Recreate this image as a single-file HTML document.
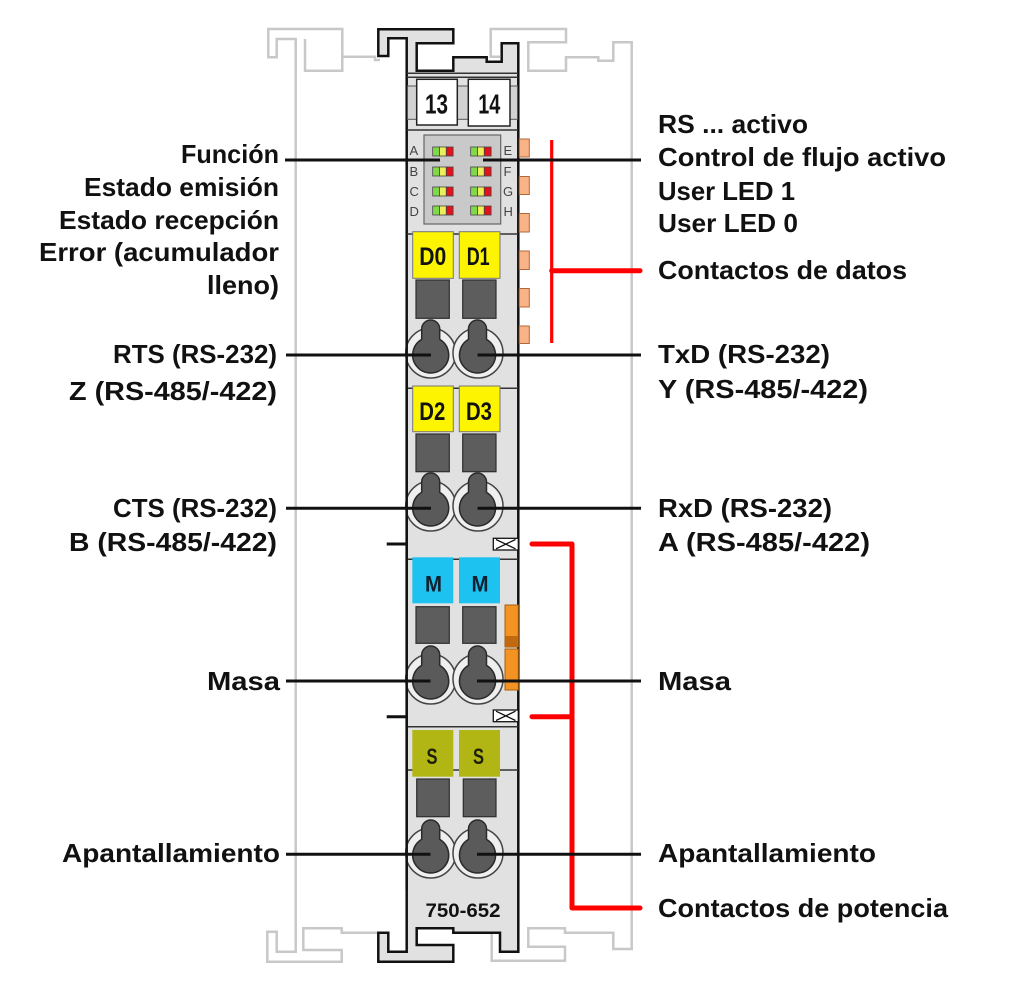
<!DOCTYPE html>
<html><head><meta charset="utf-8"><style>
html,body{margin:0;padding:0;background:#fff;}
svg{display:block;}
text{font-family:"Liberation Sans",Arial,sans-serif;}
.lb{font-size:26px;font-weight:bold;fill:#111;}
.rail{fill:none;stroke:#c8c8c8;stroke-width:2.5;}
.hl{stroke:#333;stroke-width:1.5;}
.blk{stroke:#111;stroke-width:3;}
.red{stroke:#f00;fill:none;stroke-linecap:round;}
.sq{fill:#5d5d5d;stroke:#2e2e2e;stroke-width:1.2;}
.ring{fill:#efefef;stroke:#444;stroke-width:1.5;}
.key{fill:#5a5a5a;stroke:#2a2a2a;stroke-width:1.5;}
.tab{fill:#f8b487;stroke:#b0683a;stroke-width:1;}
.yl{fill:#fcf400;stroke:#777;stroke-width:1;}
.bt{font-size:25px;font-weight:bold;fill:#111;}
.led{font-size:13px;fill:#444;}
</style></head><body>
<svg width="1024" height="990" viewBox="0 0 1024 990" xmlns="http://www.w3.org/2000/svg">
<!-- background rails -->
<polyline class="rail" points="380,60 375,60 375,56.7 342.3,56.7 342.3,29 268.3,29 268.3,57.3 276.7,57.3 276.7,39 295.7,39 295.7,951.7 276.7,951.7 276.7,931.7 267.3,931.7 267.3,961.7 341.7,961.7 341.7,950 303.3,950 303.3,928.3 341.7,928.3 341.7,932.7 380,932.7"/>
<polyline class="rail" points="305,39 305,70.7 342.3,70.7 342.3,56.7"/>
<polyline class="rail" points="500,56.7 490.7,56.7 490.7,29 566,29 566,42.3 528.3,42.3 528.3,70.7 566,70.7 566,57.3 598.3,57.3 598.3,60.7 613.3,60.7 613.3,42.3 631.7,42.3 631.7,949 613.3,949 613.3,932.7 565,932.7 565,928.3 528.3,928.3 528.3,946.7 565,946.7 565,960.7 491.7,960.7 491.7,932.7 500,932.7"/>

<!-- module body -->
<path d="M406.7,38.3 L388.3,38.3 L388.3,56 L378.3,56 L378.3,29.3 L453.3,29.3 L453.3,43.3 L416.7,43.3 L416.7,70.7 L453.3,70.7 L453.3,57.3 L486.7,57.3 L486.7,61.7 L501.7,61.7 L501.7,43.3 L518.3,43.3 L518.3,951.7 L500,951.7 L500,932.7 L453.3,932.7 L453.3,928.3 L416.7,928.3 L416.7,945 L453.3,945 L453.3,961.7 L378.3,961.7 L378.3,932.7 L388.3,932.7 L388.3,951.7 L406.7,951.7 Z" fill="#e1e1e1" stroke="#111" stroke-width="2.5"/>

<!-- label band -->
<rect x="407.5" y="86" width="110" height="33.3" fill="#d2d2d2" stroke="#555" stroke-width="1"/>
<line class="hl" x1="407" y1="73.3" x2="518" y2="73.3"/>
<line class="hl" x1="407" y1="77.3" x2="518" y2="77.3"/>
<line class="hl" x1="407" y1="130" x2="518" y2="130"/>
<rect x="416.7" y="79.3" width="40.6" height="45.7" fill="#fff" stroke="#222" stroke-width="1.5"/>
<rect x="468.3" y="79.3" width="41.7" height="46.7" fill="#fff" stroke="#222" stroke-width="1.5"/>
<text x="425" y="113.5" font-size="28" font-weight="bold" fill="#111" textLength="23" lengthAdjust="spacingAndGlyphs">13</text>
<text x="478.3" y="113.5" font-size="28" font-weight="bold" fill="#111" textLength="22" lengthAdjust="spacingAndGlyphs">14</text>

<!-- LED area -->
<rect x="424" y="135" width="76.7" height="89" fill="#c9c9c9" stroke="#666" stroke-width="1.2"/>
<text class="led" x="409.5" y="155">A</text>
<text class="led" x="409.5" y="176">B</text>
<text class="led" x="409.5" y="196">C</text>
<text class="led" x="409.5" y="216">D</text>
<text class="led" x="503.5" y="155">E</text>
<text class="led" x="503.5" y="176">F</text>
<text class="led" x="503" y="196">G</text>
<text class="led" x="503.5" y="216">H</text>
<g stroke="#444" stroke-width="0.8">
<rect x="432.7" y="147" width="6.8" height="9" fill="#7fd948"/><rect x="439.5" y="147" width="6.8" height="9" fill="#eeee5a"/><rect x="446.3" y="147" width="6.8" height="9" fill="#e3121a"/>
<rect x="470.7" y="147" width="6.8" height="9" fill="#7fd948"/><rect x="477.5" y="147" width="6.8" height="9" fill="#eeee5a"/><rect x="484.3" y="147" width="6.8" height="9" fill="#e3121a"/>
<rect x="432.7" y="167" width="6.8" height="9" fill="#7fd948"/><rect x="439.5" y="167" width="6.8" height="9" fill="#eeee5a"/><rect x="446.3" y="167" width="6.8" height="9" fill="#e3121a"/>
<rect x="470.7" y="167" width="6.8" height="9" fill="#7fd948"/><rect x="477.5" y="167" width="6.8" height="9" fill="#eeee5a"/><rect x="484.3" y="167" width="6.8" height="9" fill="#e3121a"/>
<rect x="432.7" y="187" width="6.8" height="9" fill="#7fd948"/><rect x="439.5" y="187" width="6.8" height="9" fill="#eeee5a"/><rect x="446.3" y="187" width="6.8" height="9" fill="#e3121a"/>
<rect x="470.7" y="187" width="6.8" height="9" fill="#7fd948"/><rect x="477.5" y="187" width="6.8" height="9" fill="#eeee5a"/><rect x="484.3" y="187" width="6.8" height="9" fill="#e3121a"/>
<rect x="432.7" y="206" width="6.8" height="9" fill="#7fd948"/><rect x="439.5" y="206" width="6.8" height="9" fill="#eeee5a"/><rect x="446.3" y="206" width="6.8" height="9" fill="#e3121a"/>
<rect x="470.7" y="206" width="6.8" height="9" fill="#7fd948"/><rect x="477.5" y="206" width="6.8" height="9" fill="#eeee5a"/><rect x="484.3" y="206" width="6.8" height="9" fill="#e3121a"/>
</g>

<!-- section lines -->
<line class="hl" x1="407" y1="234" x2="518" y2="234"/>
<line class="hl" x1="407" y1="388.3" x2="518" y2="388.3"/>
<line class="hl" x1="407" y1="559.3" x2="518" y2="559.3"/>
<line class="hl" x1="407" y1="726.7" x2="518" y2="726.7"/>
<line class="hl" x1="407" y1="770" x2="518" y2="770"/>

<!-- orange data contact tabs -->
<rect class="tab" x="519.3" y="139" width="10" height="18"/>
<rect class="tab" x="519.3" y="176.5" width="10" height="18"/>
<rect class="tab" x="519.3" y="213.5" width="10" height="18.5"/>
<rect class="tab" x="519.3" y="251" width="10" height="18.5"/>
<rect class="tab" x="519.3" y="288.5" width="10" height="18.5"/>
<rect class="tab" x="519.3" y="326" width="10" height="17.5"/>

<!-- colored marker boxes -->
<rect class="yl" x="412.7" y="231.7" width="40.6" height="46.6"/>
<rect class="yl" x="459.3" y="231.7" width="40.7" height="46.6"/>
<text class="bt" x="419.3" y="265" textLength="27" lengthAdjust="spacingAndGlyphs">D0</text>
<text class="bt" x="466.7" y="265" textLength="23" lengthAdjust="spacingAndGlyphs">D1</text>
<rect class="yl" x="412.7" y="386" width="40.6" height="45.7"/>
<rect class="yl" x="459.3" y="386" width="40.7" height="45.7"/>
<text class="bt" x="419.3" y="420" textLength="26" lengthAdjust="spacingAndGlyphs">D2</text>
<text class="bt" x="466" y="420" textLength="26" lengthAdjust="spacingAndGlyphs">D3</text>
<rect x="412.3" y="557.3" width="41" height="46" fill="#1dc2f0"/>
<rect x="459" y="557.3" width="41" height="46" fill="#1dc2f0"/>
<text x="425" y="591.5" font-size="22" font-weight="bold" fill="#10202e" textLength="17" lengthAdjust="spacingAndGlyphs">M</text>
<text x="471.5" y="591.5" font-size="22" font-weight="bold" fill="#10202e" textLength="17" lengthAdjust="spacingAndGlyphs">M</text>
<rect x="412.3" y="730" width="41" height="46.7" fill="#b1b614"/>
<rect x="459" y="730" width="41" height="46.7" fill="#b1b614"/>
<text x="426.5" y="764" font-size="22" font-weight="bold" fill="#1e1e08" textLength="11" lengthAdjust="spacingAndGlyphs">S</text>
<text x="473" y="764" font-size="22" font-weight="bold" fill="#1e1e08" textLength="11" lengthAdjust="spacingAndGlyphs">S</text>

<!-- gray squares -->
<rect class="sq" x="416" y="280" width="33.3" height="38.3"/><rect class="sq" x="462.7" y="280" width="33.3" height="38.3"/>
<rect class="sq" x="416" y="434" width="33.3" height="37.7"/><rect class="sq" x="462.7" y="434" width="33.3" height="37.7"/>
<rect class="sq" x="416" y="606.7" width="33.3" height="36.6"/><rect class="sq" x="462.7" y="606.7" width="33.3" height="36.6"/>
<rect class="sq" x="416.7" y="779" width="32.6" height="37.7"/><rect class="sq" x="463.3" y="779" width="32.7" height="37.7"/>

<!-- orange power bar -->
<rect x="505" y="605" width="13.3" height="42" fill="#f39323" stroke="#a8600f" stroke-width="1"/>
<rect x="505.5" y="636" width="12.3" height="11" fill="#c2680f"/>
<rect x="505" y="649" width="13.3" height="41" fill="#f39323" stroke="#a8600f" stroke-width="1"/>

<!-- crossed boxes -->
<g stroke="#111" stroke-width="1.3" fill="#fff">
<rect x="493.3" y="538.3" width="25" height="11.7"/>
<path d="M496,539.5 L515.5,548.8 M496,548.8 L515.5,539.5" fill="none"/>
<rect x="493.3" y="710" width="25" height="11.7"/>
<path d="M496,711.2 L515.5,720.5 M496,720.5 L515.5,711.2" fill="none"/>
</g>

<!-- terminals -->
<g>
<circle class="ring" cx="430.7" cy="353" r="25"/><circle class="ring" cx="478" cy="353" r="25"/>
<circle class="ring" cx="430.7" cy="506" r="25"/><circle class="ring" cx="478" cy="506" r="25"/>
<circle class="ring" cx="430.7" cy="679" r="25"/><circle class="ring" cx="478" cy="679" r="25"/>
<circle class="ring" cx="430.7" cy="853" r="25"/><circle class="ring" cx="478" cy="853" r="25"/>
</g>
<line x1="406.7" y1="320" x2="406.7" y2="890" stroke="#111" stroke-width="2.5"/>
<g class="key">
<path class="key" d="M421.7,339.4 L421.7,329 A9,9 0 0 1 439.7,329 L439.7,339.4 A18,18 0 1 1 421.7,339.4 Z"/>
<path class="key" d="M468.5,339.4 L468.5,329 A9,9 0 0 1 486.5,329 L486.5,339.4 A18,18 0 1 1 468.5,339.4 Z"/>
<path class="key" d="M421.7,492.4 L421.7,482 A9,9 0 0 1 439.7,482 L439.7,492.4 A18,18 0 1 1 421.7,492.4 Z"/>
<path class="key" d="M468.5,492.4 L468.5,482 A9,9 0 0 1 486.5,482 L486.5,492.4 A18,18 0 1 1 468.5,492.4 Z"/>
<path class="key" d="M421.7,665.4 L421.7,655 A9,9 0 0 1 439.7,655 L439.7,665.4 A18,18 0 1 1 421.7,665.4 Z"/>
<path class="key" d="M468.5,665.4 L468.5,655 A9,9 0 0 1 486.5,655 L486.5,665.4 A18,18 0 1 1 468.5,665.4 Z"/>
<path class="key" d="M421.7,839.4 L421.7,829 A9,9 0 0 1 439.7,829 L439.7,839.4 A18,18 0 1 1 421.7,839.4 Z"/>
<path class="key" d="M468.5,839.4 L468.5,829 A9,9 0 0 1 486.5,829 L486.5,839.4 A18,18 0 1 1 468.5,839.4 Z"/>
</g>

<text x="425.5" y="917" font-size="19" font-weight="bold" fill="#111" textLength="75" lengthAdjust="spacingAndGlyphs">750-652</text>

<!-- red lines -->
<line class="red" x1="551.7" y1="140" x2="551.7" y2="343" stroke-width="3.2" style="stroke-linecap:butt"/>
<line class="red" x1="551.7" y1="270.7" x2="640" y2="270.7" stroke-width="5"/>
<polyline class="red" points="532,544 572,544 572,908 640,908" stroke-width="5" stroke-linejoin="round"/>
<line class="red" x1="532" y1="716.7" x2="572" y2="716.7" stroke-width="5"/>

<!-- black connector lines -->
<line class="blk" x1="285" y1="160" x2="440" y2="160"/>
<line class="blk" x1="483" y1="160" x2="641" y2="160"/>
<line class="blk" x1="286" y1="355" x2="431" y2="355"/>
<line class="blk" x1="477.5" y1="355" x2="641" y2="355"/>
<line class="blk" x1="286" y1="508.3" x2="431" y2="508.3"/>
<line class="blk" x1="477.5" y1="508.3" x2="641" y2="508.3"/>
<line class="blk" x1="286" y1="681" x2="430.5" y2="681"/>
<line class="blk" x1="477" y1="681" x2="641" y2="681"/>
<line class="blk" x1="286" y1="854.3" x2="430.5" y2="854.3"/>
<line class="blk" x1="477" y1="854.3" x2="641" y2="854.3"/>
<line class="blk" x1="386.7" y1="544" x2="406.7" y2="544"/>
<line class="blk" x1="386.7" y1="716.7" x2="406.7" y2="716.7"/>

<!-- left labels -->
<g class="lb" text-anchor="end">
<text x="279" y="163" textLength="98" lengthAdjust="spacingAndGlyphs">Función</text>
<text x="279" y="196" textLength="195" lengthAdjust="spacingAndGlyphs">Estado emisión</text>
<text x="279" y="229" textLength="220" lengthAdjust="spacingAndGlyphs">Estado recepción</text>
<text x="279" y="261" textLength="240" lengthAdjust="spacingAndGlyphs">Error (acumulador</text>
<text x="279" y="294" textLength="72" lengthAdjust="spacingAndGlyphs">lleno)</text>
<text x="277" y="363" textLength="164" lengthAdjust="spacingAndGlyphs">RTS (RS-232)</text>
<text x="277" y="400" textLength="208" lengthAdjust="spacingAndGlyphs">Z (RS-485/-422)</text>
<text x="277" y="517" textLength="164" lengthAdjust="spacingAndGlyphs">CTS (RS-232)</text>
<text x="277" y="551" textLength="208" lengthAdjust="spacingAndGlyphs">B (RS-485/-422)</text>
<text x="280" y="690" textLength="73" lengthAdjust="spacingAndGlyphs">Masa</text>
<text x="280" y="862" textLength="218" lengthAdjust="spacingAndGlyphs">Apantallamiento</text>
</g>

<!-- right labels -->
<g class="lb">
<text x="658" y="133" textLength="150" lengthAdjust="spacingAndGlyphs">RS ... activo</text>
<text x="658" y="166" textLength="288" lengthAdjust="spacingAndGlyphs">Control de flujo activo</text>
<text x="658" y="200" textLength="137" lengthAdjust="spacingAndGlyphs">User LED 1</text>
<text x="658" y="232" textLength="140" lengthAdjust="spacingAndGlyphs">User LED 0</text>
<text x="658" y="279" textLength="249" lengthAdjust="spacingAndGlyphs">Contactos de datos</text>
<text x="658" y="363" textLength="172" lengthAdjust="spacingAndGlyphs">TxD (RS-232)</text>
<text x="658" y="398" textLength="210" lengthAdjust="spacingAndGlyphs">Y (RS-485/-422)</text>
<text x="658" y="517" textLength="174" lengthAdjust="spacingAndGlyphs">RxD (RS-232)</text>
<text x="658" y="551" textLength="212" lengthAdjust="spacingAndGlyphs">A (RS-485/-422)</text>
<text x="658" y="690" textLength="73" lengthAdjust="spacingAndGlyphs">Masa</text>
<text x="658" y="862" textLength="218" lengthAdjust="spacingAndGlyphs">Apantallamiento</text>
<text x="658" y="917" textLength="290" lengthAdjust="spacingAndGlyphs">Contactos de potencia</text>
</g>
</svg>
</body></html>
